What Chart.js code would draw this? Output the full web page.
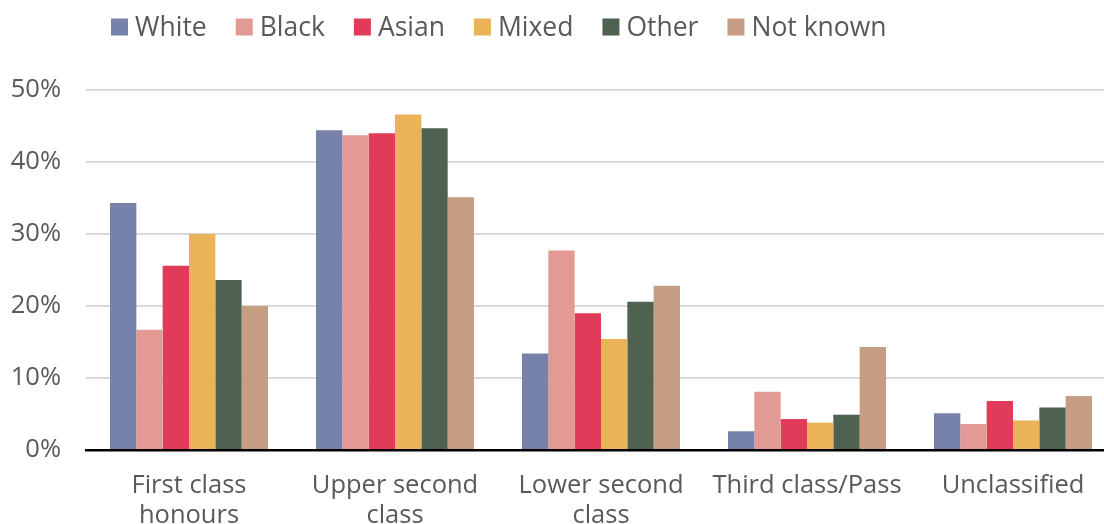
<!DOCTYPE html>
<html>
<head>
<meta charset="utf-8">
<script src="https://cdn.jsdelivr.net/npm/chart.js@4"></script>
<style>
html, body { margin: 0; padding: 0; background: #fff; overflow: hidden; width: 1104px; height: 524px; }
#wrap { position: absolute; left: 0; top: 0; width: 1120px; height: 545px; }
</style>
</head>
<body>
<div id="wrap"><canvas id="c"></canvas></div>
<script>
const categories = [['First class', 'honours'], ['Upper second', 'class'], ['Lower second', 'class'], ['Third class/Pass'], ['Unclassified']];
const seriesNames = ['White', 'Black', 'Asian', 'Mixed', 'Other', 'Not known'];
const white    = [34.3, 44.4, 13.4, 2.6, 5.1];
const black    = [16.7, 43.7, 27.7, 8.1, 3.6];
const asian    = [25.6, 44.0, 19.0, 4.3, 6.8];
const mixed    = [30.0, 46.6, 15.4, 3.8, 4.1];
const other    = [23.6, 44.7, 20.6, 4.9, 5.9];
const notKnown = [20.0, 35.1, 22.8, 14.3, 7.5];
const seriesValues = [white, black, asian, mixed, other, notKnown];
const yTicks = [0, 10, 20, 30, 40, 50];

const colors = ['#7782AA', '#E39A94', '#E23B59', '#EAB358', '#4F6151', '#C49D83'];
const FONT = '"Open Sans", "Liberation Sans", sans-serif';

const legendPlugin = {
  id: 'customLegend',
  afterDraw(chart) {
    const ctx = chart.ctx;
    ctx.save();
    ctx.font = '26.5px ' + FONT;
    ctx.textBaseline = 'middle';
    ctx.textAlign = 'left';
    let x = 111;
    const cy = 27;
    chart.data.datasets.forEach(ds => {
      ctx.fillStyle = ds.backgroundColor;
      ctx.fillRect(x, cy - 8.5, 17, 17);
      x += 17 + 7;
      ctx.fillStyle = '#595959';
      ctx.fillText(ds.label, x, cy + 1);
      x += ctx.measureText(ds.label).width + 29;
    });
    ctx.restore();
  }
};

new Chart(document.getElementById('c'), {
  type: 'bar',
  data: {
    labels: categories,
    datasets: seriesNames.map((n, i) => ({
      label: n,
      data: seriesValues[i],
      backgroundColor: colors[i],
      borderWidth: 0,
      barPercentage: 1,
      categoryPercentage: 0.767
    }))
  },
  options: {
    responsive: true,
    maintainAspectRatio: false,
    animation: false,
    layout: { padding: { top: 90, right: 4, bottom: 0, left: 0 } },
    plugins: { legend: { display: false }, tooltip: { enabled: false } },
    scales: {
      x: {
        grid: { display: false, drawTicks: false },
        border: { display: true, color: '#000', width: 2.5 },
        ticks: { color: '#595959', font: { family: FONT, size: 25.5, lineHeight: 1.2 }, padding: 20, maxRotation: 0, autoSkip: false },
        afterFit(scale) { scale.height = 95; }
      },
      y: {
        min: 0, max: 50,
        afterBuildTicks(scale) { scale.ticks = yTicks.map(v => ({ value: v })); },
        grid: { color: '#D9D9D9', lineWidth: 2, drawTicks: false },
        border: { display: false },
        ticks: { color: '#595959', font: { family: FONT, size: 25.5 }, padding: 25, callback: v => v + '%' },
        afterFit(scale) { scale.width = 86; }
      }
    }
  },
  plugins: [legendPlugin]
});
</script>
</body>
</html>
